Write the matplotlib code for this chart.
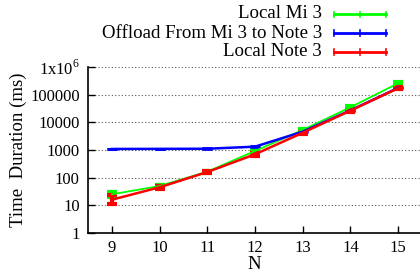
import matplotlib
matplotlib.use("Agg")
import matplotlib.pyplot as plt
from matplotlib.lines import Line2D
import numpy as np

plt.rcParams['font.family'] = ['Liberation Serif', 'DejaVu Serif']
plt.rcParams['mathtext.fontset'] = 'custom'
plt.rcParams['mathtext.rm'] = 'Liberation Serif'

n = [9, 10, 11, 12, 13, 14, 15]
mi3 = [25, 50, 165, 920, 5300, 35000, 257000]
mi3_lo = [20, 45, 150, 830, 4800, 31000, 230000]
mi3_hi = [30, 55, 180, 1000, 5800, 39000, 285000]
offload = [1090, 1100, 1110, 1320, 4600, 27000, 175000]
offload_lo = [1060, 1070, 1080, 1280, 4450, 26000, 168000]
offload_hi = [1120, 1130, 1140, 1360, 4750, 28000, 182000]
note3 = [16, 45, 160, 700, 4200, 26500, 170000]
note3_lo = [11, 40, 145, 630, 3800, 24000, 155000]
note3_hi = [24, 50, 175, 780, 4600, 29000, 185000]
labels = ["Local Mi 3", "Offload From Mi 3 to Note 3", "Local Note 3"]
yticks = [1, 10, 100, 1000, 10000, 100000, 1000000]
yticklabels = ["1", "10", "100", "1000", "10000", "100000", "1x10$^{6}$"]

W, H = 420, 276
fig = plt.figure(figsize=(W / 100, H / 100), dpi=100)
ax = fig.add_axes([88 / W, 1 - 233 / H, 332 / W, 166 / H])

def err(v, lo, hi):
    v = np.array(v, float)
    return [v - np.array(lo, float), np.array(hi, float) - v]

series = [
    (mi3, mi3_lo, mi3_hi, '#00ff00', 1.3, 3.0),
    (offload, offload_lo, offload_hi, '#0000ff', 1.8, 2.0),
    (note3, note3_lo, note3_hi, '#ff0000', 1.8, 3.0),
]
for v, lo, hi, c, lw, ew in series:
    ax.errorbar(n, v, yerr=err(v, lo, hi), color=c, lw=lw, elinewidth=ew,
                capsize=3.6, capthick=ew)

ax.set_yscale('log')
ax.set_ylim(1, 1e6)
ax.set_xlim(8.497, 15.46)
ax.set_xticks(n)
ax.set_yticks(yticks)
ax.set_yticklabels(yticklabels)
ax.minorticks_off()
ax.tick_params(direction='in', length=5, width=1, labelsize=12, pad=6)
ax.tick_params(axis='x', pad=5)
ax.grid(True, axis='y', linestyle=(0, (1, 2)), color='#555555', lw=0.8)
for s in ['top', 'right']:
    ax.spines[s].set_visible(False)
for s in ['left', 'bottom']:
    ax.spines[s].set_linewidth(1.2)

ax.set_xlabel("N", fontsize=13.5)
ax.set_ylabel("Time  Duration (ms)", fontsize=13.5)
ax.xaxis.set_label_coords(0.5, (233 - 256) / 166)
ax.yaxis.set_label_coords((27 - 88) / 332, 0.5)

# gnuplot-style key: text right-aligned, sample line with end caps
key_y = [14, 33, 52]
for (v, lo, hi, c, lw, ew), lab, yy in zip(series, labels, key_y):
    y = 1 - yy / H
    fig.text(322 / W, y, lab, ha='right', va='center', fontsize=13.6)
    fig.add_artist(Line2D([334 / W, 386 / W], [y, y], color=c, lw=2.0,
                          transform=fig.transFigure))
    for xx in (334, 360, 386):
        fig.add_artist(Line2D([xx / W, xx / W], [y - 2.5 / H, y + 2.5 / H],
                              color=c, lw=1.2, transform=fig.transFigure))

fig.savefig("out.png", dpi=100)
